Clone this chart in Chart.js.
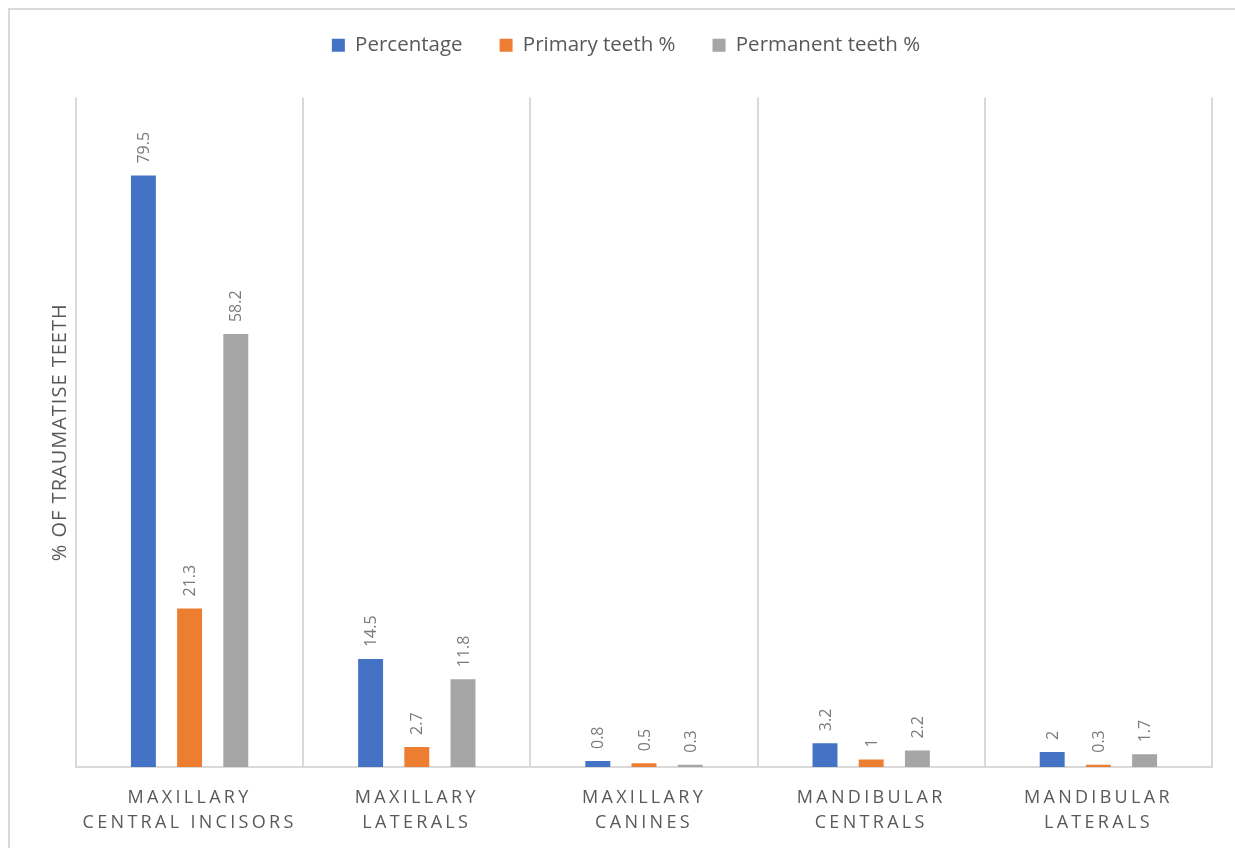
<!DOCTYPE html>
<html>
<head>
<meta charset="utf-8">
<script src="https://cdn.jsdelivr.net/npm/chart.js@4"></script>
<style>
  html, body { margin: 0; padding: 0; background: #fff; }
  #wrap { position: relative; width: 1235px; height: 848px; overflow: hidden; }
  #frame { position: absolute; left: 8px; top: 8px; width: 1300px; height: 900px;
           border-left: 2px solid #d9d9d9; border-top: 2px solid #d9d9d9; box-sizing: border-box; }
  canvas { position: absolute; left: 0; top: 0; }
</style>
</head>
<body>
<div id="wrap">
  <div id="frame"></div>
  <canvas id="dispChart" width="1235" height="848"></canvas>
</div>
<script>
  // categories and values
  const teethGroups = [
    ['MAXILLARY', 'CENTRAL INCISORS'],
    ['MAXILLARY', 'LATERALS'],
    ['MAXILLARY', 'CANINES'],
    ['MANDIBULAR', 'CENTRALS'],
    ['MANDIBULAR', 'LATERALS']
  ];
  const percentage = [79.5, 14.5, 0.8, 3.2, 2];
  const primaryTeeth = [21.3, 2.7, 0.5, 1, 0.3];
  const permanentTeeth = [58.2, 11.8, 0.3, 2.2, 1.7];

  const txtColor = '#595959';
  const gridColor = '#d9d9d9';

  // value labels above bars, rotated like the excel original
  const barLabels = {
    id: 'barLabels',
    afterDatasetsDraw(chart) {
      const ctx = chart.ctx;
      ctx.save();
      ctx.font = '16px "Open Sans"';
      ctx.fillStyle = '#7a7a7a';
      ctx.textAlign = 'left';
      ctx.textBaseline = 'middle';
      chart.data.datasets.forEach((ds, i) => {
        const meta = chart.getDatasetMeta(i);
        meta.data.forEach((bar, j) => {
          ctx.save();
          ctx.translate(bar.x + 1, bar.y - 12);
          ctx.rotate(-Math.PI / 2);
          ctx.fillText(String(ds.data[j]), 0, 0);
          ctx.restore();
        });
      });
      ctx.restore();
    }
  };

  // spaced out category labels + room under the legend
  const spacing = {
    id: 'spacing',
    beforeInit(chart) {
      const lg = chart.legend;
      if (lg) {
        const fit = lg.fit;
        lg.fit = function () { fit.call(this); this.height += 32; };
      }
    },
    afterLayout(chart) {
      const sc = chart.scales.x;
      if (!sc._spaced) {
        const orig = sc.drawLabels;
        sc.drawLabels = function (area) {
          const ctx = this.ctx;
          ctx.save();
          ctx.letterSpacing = '3.3px';
          orig.call(this, area);
          ctx.restore();
        };
        sc._spaced = true;
      }
      const ys = chart.scales.y;
      if (!ys._spaced) {
        const origT = ys.drawTitle;
        ys.drawTitle = function () {
          const ctx = this.ctx;
          ctx.save();
          ctx.letterSpacing = '1px';
          origT.call(this);
          ctx.restore();
        };
        ys._spaced = true;
      }
    }
  };

  const data = {
    labels: teethGroups,
    datasets: [
      { label: 'Percentage', data: percentage, backgroundColor: '#4472c4' },
      { label: 'Primary teeth %', data: primaryTeeth, backgroundColor: '#ed7d31' },
      { label: 'Permanent teeth %', data: permanentTeeth, backgroundColor: '#a5a5a5' }
    ]
  };

  const config = {
    type: 'bar',
    data: data,
    plugins: [barLabels, spacing],
    options: {
      responsive: false,
      animation: false,
      layout: { padding: { left: 40, right: 23, top: -2, bottom: -5 } },
      datasets: {
        bar: { categoryPercentage: 0.61, barPercentage: 0.54 }
      },
      plugins: {
        legend: {
          position: 'top',
          labels: {
            boxWidth: 13, boxHeight: 13, padding: 37,
            color: txtColor,
            font: { family: 'Open Sans', size: 20.5 }
          }
        },
        tooltip: { enabled: false }
      },
      scales: {
        x: {
          grid: { color: gridColor, lineWidth: 2, offset: true, drawTicks: false },
          border: { color: gridColor, width: 2 },
          ticks: {
            color: txtColor, padding: 18, maxRotation: 0,
            font: { family: 'Open Sans', size: 18, lineHeight: 1.39 }
          }
        },
        y: {
          min: 0, max: 90,
          grid: { display: false },
          border: { display: false },
          ticks: { display: false },
          title: {
            display: true, text: '% OF TRAUMATISE TEETH', color: txtColor,
            font: { family: 'Open Sans', size: 20 }, padding: { top: 8, bottom: -4 }
          }
        }
      }
    }
  };

  const myChart = new Chart(document.getElementById('dispChart'), config);
  myChart.update('none');
</script>
</body>
</html>
